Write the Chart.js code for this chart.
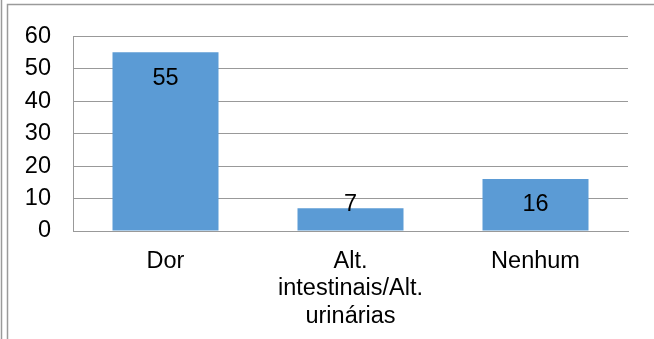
<!DOCTYPE html>
<html>
<head>
<meta charset="utf-8">
<script src="https://cdn.jsdelivr.net/npm/chart.js@4/dist/chart.umd.min.js"></script>
<style>
  html, body { margin: 0; padding: 0; background: #fff; }
  #wrap { position: relative; width: 654px; height: 339px; }
</style>
</head>
<body>
<div id="wrap"><canvas id="c" width="654" height="339"></canvas></div>
<script>
// Categories (multi-line labels) and counts
const categories = ['Dor', ['Alt.', 'intestinais/Alt.', 'urinárias'], 'Nenhum'];
const counts = [55, 7, 16];
const yTicks = { min: 0, max: 60, step: 10 };

const FONT = "'Liberation Sans', Arial, sans-serif";
const FONT_SIZE = 23.5;

// Thin frame lines around the chart object
const framePlugin = {
  id: 'frame',
  beforeDraw(chart) {
    const ctx = chart.ctx;
    ctx.save();
    ctx.fillStyle = '#fff';
    ctx.fillRect(0, 0, chart.width, chart.height);
    ctx.strokeStyle = '#9a9a9a';
    ctx.lineWidth = 1.5;
    ctx.beginPath();
    ctx.moveTo(1.5, 0); ctx.lineTo(1.5, chart.height);
    ctx.moveTo(7.5, chart.height); ctx.lineTo(7.5, 4.5); ctx.lineTo(chart.width, 4.5);
    ctx.stroke();
    ctx.restore();
  }
};

// Value labels drawn near the top inside each bar
const valueLabels = {
  id: 'valueLabels',
  afterDatasetsDraw(chart) {
    const ctx = chart.ctx;
    const meta = chart.getDatasetMeta(0);
    const ds = chart.data.datasets[0];
    ctx.save();
    ctx.font = FONT_SIZE + 'px ' + FONT;
    ctx.fillStyle = '#000';
    ctx.textAlign = 'center';
    ctx.textBaseline = 'middle';
    meta.data.forEach((bar, i) => {
      const y = Math.min(bar.y + 26, bar.base - 26);
      ctx.fillText(String(ds.data[i]), bar.x, y);
    });
    ctx.restore();
  }
};

new Chart(document.getElementById('c'), {
  type: 'bar',
  data: {
    labels: categories,
    datasets: [{
      data: counts,
      backgroundColor: '#5b9bd5',
      borderWidth: 0,
      categoryPercentage: 0.573,
      barPercentage: 1.0
    }]
  },
  options: {
    responsive: false,
    animation: false,
    layout: { padding: { left: 0, top: 33, right: 26, bottom: 0 } },
    plugins: { legend: { display: false }, tooltip: { enabled: false } },
    scales: {
      x: {
        grid: { display: false, drawTicks: false },
        border: { display: true, color: '#999', width: 1 },
        ticks: {
          color: '#000',
          font: { family: FONT, size: FONT_SIZE, lineHeight: 1.16 },
          padding: 17,
          maxRotation: 0,
          autoSkip: false
        },
        afterFit(scale) { scale.height = 108; }
      },
      y: {
        min: yTicks.min,
        max: yTicks.max,
        grid: { color: '#999', lineWidth: 1, drawTicks: false },
        border: { display: true, color: '#999', width: 1 },
        ticks: {
          stepSize: yTicks.step,
          color: '#000',
          font: { family: FONT, size: FONT_SIZE },
          padding: 22
        },
        afterFit(scale) { scale.width = 73; }
      }
    }
  },
  plugins: [framePlugin, valueLabels]
});
</script>
</body>
</html>
